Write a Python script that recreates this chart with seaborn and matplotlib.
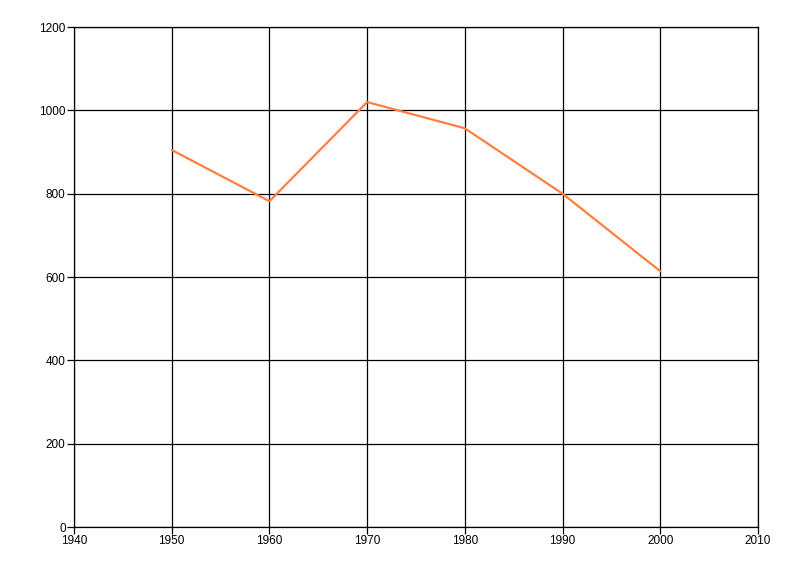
import matplotlib
matplotlib.use("Agg")
import matplotlib.pyplot as plt
import seaborn as sns
import pandas as pd

anos = [1950, 1960, 1970, 1980, 1990, 2000]
valores = [905, 782, 1020, 957, 800, 614]

sns.set_style("white")
plt.rcParams['font.family'] = ['Liberation Sans', 'DejaVu Sans']

df = pd.DataFrame({'ano': anos, 'valor': valores})

fig = plt.figure(figsize=(8, 5.76), dpi=100)
ax = fig.add_axes([0.0925, 0.085, 0.855, 0.868])
sns.lineplot(data=df, x='ano', y='valor', ax=ax, color='#FF7F3F', linewidth=1.6)

ax.set_xlim(1940, 2010)
ax.set_ylim(0, 1200)
ax.set_xticks(range(1940, 2011, 10))
ax.set_yticks(range(0, 1201, 200))
ax.grid(True, color='black', linewidth=0.9)
ax.set_axisbelow(True)
# as bordas de cima e da direita fazem o papel das últimas linhas de grade
for lado in ['top', 'right', 'left', 'bottom']:
    ax.spines[lado].set_visible(True)
    ax.spines[lado].set_color('black')
    ax.spines[lado].set_linewidth(0.9)
ax.tick_params(axis='both', direction='out', length=5, width=0.9, color='black',
               labelsize=8.5, pad=1, labelcolor='black', bottom=True, left=True)
ax.set_xlabel('')
ax.set_ylabel('')

fig.savefig('out.png', dpi=100)
